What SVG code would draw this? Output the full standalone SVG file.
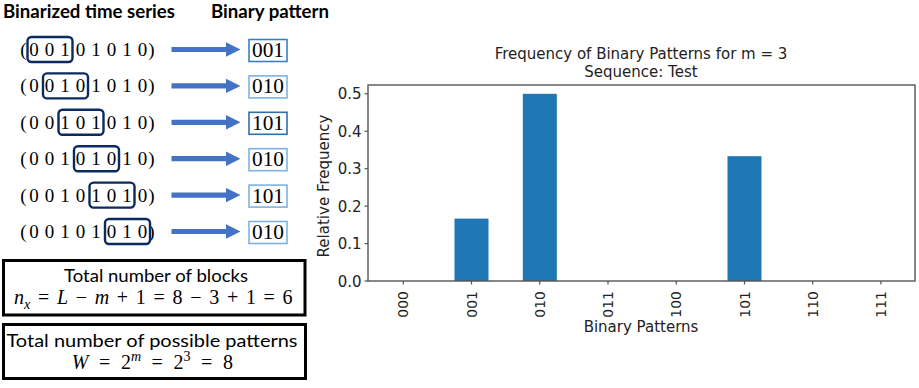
<svg xmlns="http://www.w3.org/2000/svg" width="919" height="388" viewBox="0 0 919 388">
<style>
.hdr{font-family:Lato,"Open Sans","Liberation Sans",sans-serif;font-weight:bold;font-size:19px;fill:#000}
.lbl{font-family:Lato,"Open Sans","Liberation Sans",sans-serif;font-size:18px;fill:#000}
.ser{font-family:"Liberation Serif","DejaVu Serif",serif;font-size:19px;fill:#000;text-anchor:middle}
.pat{font-family:"Liberation Serif","DejaVu Serif",serif;font-size:20px;fill:#000;text-anchor:middle}
.math{font-family:"Liberation Serif","DejaVu Serif",serif;font-size:20px;fill:#000}
.it{font-style:italic}
.win{fill:none;stroke:#0b2a5e;stroke-width:2.4}
.pbox{fill:#fff;stroke-width:1.6}
.frame{fill:none;stroke:#000;stroke-width:3}
.arrow{fill:#4472c4}
.ax{font-family:"DejaVu Sans",sans-serif;fill:#222}
.spine{fill:none;stroke:#555;stroke-width:1.4}
.tick{stroke:#555;stroke-width:1.2}
.bar{fill:#1f77b4}
</style>
<defs>
<path id="arr" d="M171.5,-2.6 H226 V-7.2 L240.5,0 L226,7.2 V2.6 H171.5 Z"/>
</defs>

<g id="headers">
<text class="hdr" x="3" y="17.5" textLength="172" lengthAdjust="spacingAndGlyphs">Binarized time series</text>
<text class="hdr" x="211" y="17.5" textLength="118" lengthAdjust="spacingAndGlyphs">Binary pattern</text>
</g>

<g id="series">
<g id="row1">
<text class="ser" x="23.5 34 49.5 65 80.5 96 111.5 127 142.5 151.5" y="56">(00101010)</text>
<rect class="win" x="27.5" y="37" width="45" height="25" rx="4"/>
</g>
<g id="row2">
<text class="ser" x="23.5 34 49.5 65 80.5 96 111.5 127 142.5 151.5" y="92.4">(00101010)</text>
<rect class="win" x="43" y="73.4" width="45" height="25" rx="4"/>
</g>
<g id="row3">
<text class="ser" x="23.5 34 49.5 65 80.5 96 111.5 127 142.5 151.5" y="128.8">(00101010)</text>
<rect class="win" x="58.5" y="109.8" width="45" height="25" rx="4"/>
</g>
<g id="row4">
<text class="ser" x="23.5 34 49.5 65 80.5 96 111.5 127 142.5 151.5" y="165.2">(00101010)</text>
<rect class="win" x="74" y="146.2" width="45" height="25" rx="4"/>
</g>
<g id="row5">
<text class="ser" x="23.5 34 49.5 65 80.5 96 111.5 127 142.5 151.5" y="201.6">(00101010)</text>
<rect class="win" x="89.5" y="182.6" width="45" height="25" rx="4"/>
</g>
<g id="row6">
<text class="ser" x="23.5 34 49.5 65 80.5 96 111.5 127 142.5 151.5" y="238">(00101010)</text>
<rect class="win" x="105" y="219" width="45" height="25" rx="4"/>
</g>
</g>

<g id="connectors">
<use href="#arr" class="arrow" transform="translate(0,49.5)"/>
<use href="#arr" class="arrow" transform="translate(0,85.9)"/>
<use href="#arr" class="arrow" transform="translate(0,122.3)"/>
<use href="#arr" class="arrow" transform="translate(0,158.7)"/>
<use href="#arr" class="arrow" transform="translate(0,195.1)"/>
<use href="#arr" class="arrow" transform="translate(0,231.5)"/>
</g>

<g id="patterns">
<g id="p1"><rect class="pbox" x="249" y="39.5" width="38" height="22" stroke="#3c7fc0"/><text class="pat" x="268" y="57" textLength="32" lengthAdjust="spacingAndGlyphs">001</text></g>
<g id="p2"><rect class="pbox" x="249" y="75.9" width="38" height="22" stroke="#7fb2e2"/><text class="pat" x="268" y="93.4" textLength="32" lengthAdjust="spacingAndGlyphs">010</text></g>
<g id="p3"><rect class="pbox" x="249" y="112.3" width="38" height="22" stroke="#2e6fb0"/><text class="pat" x="268" y="129.8" textLength="32" lengthAdjust="spacingAndGlyphs">101</text></g>
<g id="p4"><rect class="pbox" x="249" y="148.7" width="38" height="22" stroke="#7fb2e2"/><text class="pat" x="268" y="166.2" textLength="32" lengthAdjust="spacingAndGlyphs">010</text></g>
<g id="p5"><rect class="pbox" x="249" y="185.1" width="38" height="22" stroke="#7fb2e2"/><text class="pat" x="268" y="202.6" textLength="32" lengthAdjust="spacingAndGlyphs">101</text></g>
<g id="p6"><rect class="pbox" x="249" y="221.5" width="38" height="22" stroke="#7fb2e2"/><text class="pat" x="268" y="239" textLength="32" lengthAdjust="spacingAndGlyphs">010</text></g>
</g>

<g id="blocks-box">
<rect class="frame" x="3.5" y="260.5" width="301.5" height="54.5"/>
<text class="lbl" x="156" y="281.5" text-anchor="middle" textLength="184" lengthAdjust="spacingAndGlyphs">Total number of blocks</text>
<text class="math" y="304"><tspan class="it" x="14">n</tspan><tspan class="it" x="24" y="309" font-size="14">x</tspan><tspan x="37.9" y="304">=</tspan><tspan class="it" x="56.9">L</tspan><tspan x="75.7">−</tspan><tspan class="it" x="94.7">m</tspan><tspan x="116.8">+</tspan><tspan x="135.8">1</tspan><tspan x="153.5">=</tspan><tspan x="172.5">8</tspan><tspan x="190.2">−</tspan><tspan x="209.2">3</tspan><tspan x="226.9">+</tspan><tspan x="245.9">1</tspan><tspan x="263.6">=</tspan><tspan x="282.6">6</tspan></text>
</g>

<g id="patterns-box">
<rect class="frame" x="3.5" y="324.5" width="302" height="54"/>
<text class="lbl" x="152" y="346.5" text-anchor="middle" textLength="291" lengthAdjust="spacingAndGlyphs">Total number of possible patterns</text>
<text class="math" y="369"><tspan class="it" x="71.7">W</tspan><tspan x="99">=</tspan><tspan x="120.9">2</tspan><tspan class="it" x="131" y="361" font-size="14">m</tspan><tspan x="151.6" y="369">=</tspan><tspan x="173.5">2</tspan><tspan x="183.5" y="361" font-size="14">3</tspan><tspan x="201.1" y="369">=</tspan><tspan x="223">8</tspan></text>
</g>

<g id="chart">
<text class="ax" x="641" y="59.3" font-size="15" text-anchor="middle">Frequency of Binary Patterns for m = 3</text>
<text class="ax" x="641" y="77.3" font-size="15" text-anchor="middle">Sequence: Test</text>
<rect class="bar" x="454.5" y="218.6" width="34" height="62.4"/>
<rect class="bar" x="522.8" y="93.8" width="34" height="187.2"/>
<rect class="bar" x="727.5" y="156.2" width="34" height="124.8"/>
<rect class="spine" x="368" y="85" width="547" height="196"/>
<g class="tick">
<line x1="364.5" y1="281" x2="368" y2="281"/>
<line x1="364.5" y1="243.6" x2="368" y2="243.6"/>
<line x1="364.5" y1="206.1" x2="368" y2="206.1"/>
<line x1="364.5" y1="168.7" x2="368" y2="168.7"/>
<line x1="364.5" y1="131.2" x2="368" y2="131.2"/>
<line x1="364.5" y1="93.8" x2="368" y2="93.8"/>
<line x1="403.3" y1="281" x2="403.3" y2="284.5"/>
<line x1="471.5" y1="281" x2="471.5" y2="284.5"/>
<line x1="539.8" y1="281" x2="539.8" y2="284.5"/>
<line x1="608" y1="281" x2="608" y2="284.5"/>
<line x1="676.2" y1="281" x2="676.2" y2="284.5"/>
<line x1="744.5" y1="281" x2="744.5" y2="284.5"/>
<line x1="812.7" y1="281" x2="812.7" y2="284.5"/>
<line x1="880.9" y1="281" x2="880.9" y2="284.5"/>
</g>
<g class="ax" font-size="15" text-anchor="end">
<text x="361.5" y="286.5">0.0</text>
<text x="361.5" y="249.1">0.1</text>
<text x="361.5" y="211.6">0.2</text>
<text x="361.5" y="174.2">0.3</text>
<text x="361.5" y="136.7">0.4</text>
<text x="361.5" y="99.3">0.5</text>
</g>
<g class="ax" font-size="14" text-anchor="end">
<text transform="translate(408.3,291) rotate(-90)">000</text>
<text transform="translate(476.5,291) rotate(-90)">001</text>
<text transform="translate(544.8,291) rotate(-90)">010</text>
<text transform="translate(613,291) rotate(-90)">011</text>
<text transform="translate(681.2,291) rotate(-90)">100</text>
<text transform="translate(749.5,291) rotate(-90)">101</text>
<text transform="translate(817.7,291) rotate(-90)">110</text>
<text transform="translate(885.9,291) rotate(-90)">111</text>
</g>
<text class="ax" x="641" y="331.5" font-size="15" text-anchor="middle">Binary Patterns</text>
<text class="ax" font-size="15" text-anchor="middle" transform="translate(329,186) rotate(-90)">Relative Frequency</text>
</g>
</svg>
